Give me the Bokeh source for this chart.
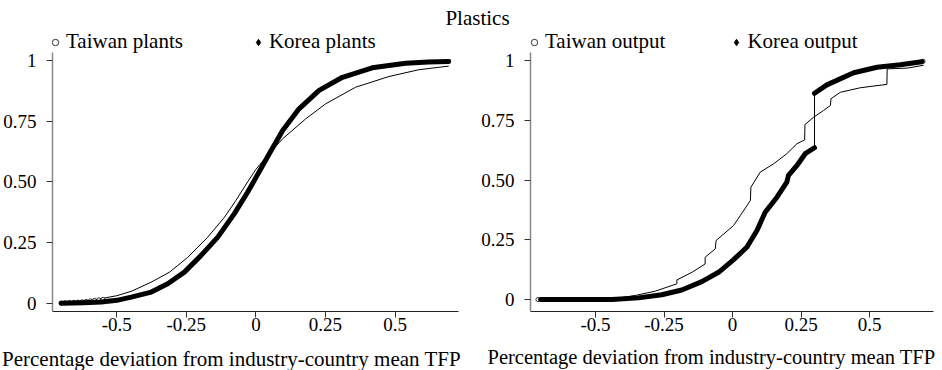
from bokeh.plotting import figure
from bokeh.layouts import column, row
from bokeh.models import Range1d, Legend, LegendItem, FixedTicker
from bokeh.embed import file_html
from bokeh.resources import INLINE
from bokeh.core.properties import value

FONT = "Liberation Serif"

title_text = "Plastics"
x_title = "Percentage deviation from industry-country mean TFP"
x_ticks = [-0.5, -0.25, 0, 0.25, 0.5]
x_tick_labels = ["-0.5", "-0.25", "0", "0.25", "0.5"]
y_ticks = [0, 0.25, 0.5, 0.75, 1]
y_tick_labels = ["0", "0.25", "0.50", "0.75", "1"]

# ---- left panel: plants ----
tw_plants_label = "Taiwan plants"
ko_plants_label = "Korea plants"
tw_plants_x = [-0.70, -0.65, -0.60, -0.556, -0.50, -0.448, -0.376, -0.31, -0.245, -0.173,
               -0.113, -0.072, -0.03, 0.0, 0.036, 0.096, 0.179, 0.251, 0.358, 0.478, 0.585, 0.693]
tw_plants_y = [0.002, 0.006, 0.011, 0.02, 0.032, 0.05, 0.088, 0.129, 0.19, 0.273,
               0.355, 0.424, 0.50, 0.552, 0.602, 0.678, 0.76, 0.822, 0.89, 0.934, 0.962, 0.977]
tw_plants_tail_x = [-0.70, -0.685, -0.67, -0.655, -0.64, -0.625, -0.61, -0.595, -0.58, -0.565, -0.55]
tw_plants_tail_y = [0.002, 0.003, 0.004, 0.005, 0.006, 0.007, 0.009, 0.011, 0.013, 0.015, 0.017]
ko_plants_x = [-0.70, -0.62, -0.556, -0.50, -0.448, -0.376, -0.317, -0.257, -0.197, -0.137,
               -0.078, -0.03, 0.0, 0.048, 0.096, 0.155, 0.227, 0.311, 0.418, 0.538, 0.62, 0.693]
ko_plants_y = [0.001, 0.003, 0.006, 0.013, 0.026, 0.047, 0.081, 0.129, 0.198, 0.273,
               0.369, 0.458, 0.518, 0.616, 0.712, 0.801, 0.877, 0.931, 0.97, 0.989, 0.994, 0.996]

# ---- right panel: output ----
tw_output_label = "Taiwan output"
ko_output_label = "Korea output"
tw_output_x = [-0.70, -0.55, -0.44, -0.355, -0.282, -0.203, -0.203, -0.148, -0.10, -0.10,
               -0.063, -0.060, 0.004, 0.028, 0.065, 0.067, 0.101, 0.15, 0.198, 0.235,
               0.263, 0.264, 0.296, 0.332, 0.357, 0.359, 0.393, 0.466, 0.563, 0.564, 0.636, 0.697]
tw_output_y = [0.0, 0.0, 0.002, 0.017, 0.035, 0.066, 0.082, 0.114, 0.149, 0.177,
               0.212, 0.247, 0.31, 0.351, 0.414, 0.47, 0.533, 0.568, 0.61, 0.652,
               0.668, 0.732, 0.763, 0.791, 0.812, 0.84, 0.867, 0.886, 0.90, 0.965, 0.968, 0.98]
tw_output_tail_x = [-0.71, -0.69, -0.675, -0.66, -0.645, -0.63, -0.615, -0.60, -0.585, -0.57, -0.555, 0.695]
tw_output_tail_y = [0.0, 0.0, 0.0, 0.0, 0.0, 0.0, 0.0, 0.0, 0.0, 0.0, 0.0, 0.997]
ko_output_low_x = [-0.70, -0.44, -0.343, -0.258, -0.185, -0.112, -0.051, 0.004, 0.052, 0.089,
                   0.119, 0.162, 0.198, 0.204, 0.235, 0.265, 0.299]
ko_output_low_y = [0.0, 0.0, 0.007, 0.02, 0.04, 0.075, 0.114, 0.167, 0.219, 0.289,
                   0.365, 0.428, 0.491, 0.519, 0.561, 0.61, 0.635]
ko_output_high_x = [0.299, 0.344, 0.442, 0.527, 0.612, 0.691]
ko_output_high_y = [0.863, 0.898, 0.949, 0.972, 0.982, 0.995]

W, H = 942, 370
TOP_H, BOT_H = 30, 24
PLOT_W, PLOT_H = 471, H - TOP_H - BOT_H
BORDER_B = 35
FRAME_H = PLOT_H - BORDER_B
LEGEND_H = 24


def style_axes(p, y_lo, y_hi):
    p.grid.visible = False
    p.outline_line_color = None
    for ax in (p.xaxis[0], p.yaxis[0]):
        ax.major_label_text_font = FONT
        ax.major_label_text_font_size = "19px"
        ax.major_label_text_color = "black"
        ax.minor_tick_line_color = None
        ax.major_tick_in = 0
        ax.major_tick_out = 6
        ax.major_tick_line_color = "#333333"
    p.xaxis.ticker = FixedTicker(ticks=x_ticks)
    p.xaxis.major_label_overrides = dict(zip(x_ticks, x_tick_labels))
    p.yaxis.ticker = FixedTicker(ticks=y_ticks)
    p.yaxis.major_label_overrides = dict(zip(y_ticks, y_tick_labels))
    p.yaxis.bounds = (y_lo, y_hi)
    p.xaxis.axis_line_color = "#222222"
    p.yaxis.axis_line_color = "#888888"
    p.yaxis.axis_line_width = 1.5
    p.xaxis.major_label_standoff = 0
    p.yaxis.major_label_standoff = 10


def add_legend(p, r1, l1, r2, l2, dx, spacing):
    leg = Legend(items=[LegendItem(label=l1, renderers=[r1]), LegendItem(label=l2, renderers=[r2])],
                 orientation="horizontal", location=(dx, FRAME_H - LEGEND_H), glyph_width=16, glyph_height=20,
                 label_height=20, label_standoff=3, spacing=spacing, padding=0, margin=0,
                 border_line_color=None, background_fill_alpha=0,
                 label_text_font=FONT, label_text_font_size="21px", label_text_color="black")
    p.add_layout(leg)


def strip(height):
    s = figure(width=W, height=height, x_range=Range1d(0, W), y_range=Range1d(0, height),
               x_axis_location=None, y_axis_location=None, min_border=0,
               toolbar_location=None, output_backend="svg", title=None)
    s.grid.visible = False
    s.outline_line_color = None
    return s


# top strip: title
p0 = strip(TOP_H)
p0.text(x=[477], y=[TOP_H - 17.5], text=[title_text], text_font=value(FONT), text_font_size="21px",
        text_align="center", text_baseline="middle", text_color="black")

# bottom strip: x-axis titles
p3 = strip(BOT_H)
p3.text(x=[231], y=[BOT_H / 2], text=[x_title], text_font=value(FONT),
        text_font_size="21px", text_align="center", text_baseline="middle", text_color="black")
p3.text(x=[711], y=[BOT_H / 2 + 2], text=[x_title], text_font=value(FONT),
        text_font_size="20.5px", text_align="center", text_baseline="middle", text_color="black")

# left panel (frame reaches up to hold the key; the y axis line stops at its bounds)
p1 = figure(width=PLOT_W, height=PLOT_H, x_range=Range1d(-0.731, 0.728), y_range=Range1d(-0.033, 1.1235),
            min_border_left=51, min_border_right=13, min_border_top=0, min_border_bottom=BORDER_B,
            toolbar_location=None, output_backend="svg", title=None)
style_axes(p1, -0.033, 1.033)
p1.line(tw_plants_x, tw_plants_y, line_color="black", line_width=1)
r_tw1 = p1.scatter(tw_plants_tail_x, tw_plants_tail_y, marker="circle", size=4,
                   fill_color="white", line_color="black", line_width=0.8)
p1.line(ko_plants_x, ko_plants_y, line_color="black", line_width=5, line_join="round", line_cap="round")
r_ko1 = p1.scatter(ko_plants_x, ko_plants_y, marker="diamond", size=4,
                   fill_color="black", line_color="black")
add_legend(p1, r_tw1, tw_plants_label, r_ko1, ko_plants_label, -5, 67)

# right panel
p2 = figure(width=PLOT_W, height=PLOT_H, x_range=Range1d(-0.737, 0.733), y_range=Range1d(-0.050, 1.1255),
            min_border_left=59, min_border_right=9, min_border_top=0, min_border_bottom=BORDER_B,
            toolbar_location=None, output_backend="svg", title=None)
style_axes(p2, -0.050, 1.0335)
p2.line(tw_output_x, tw_output_y, line_color="black", line_width=1)
r_tw2 = p2.scatter(tw_output_tail_x, tw_output_tail_y, marker="circle", size=4,
                   fill_color="white", line_color="black", line_width=0.8)
p2.line(ko_output_low_x + ko_output_high_x, ko_output_low_y + ko_output_high_y,
        line_color="black", line_width=1)
p2.line(ko_output_low_x, ko_output_low_y, line_color="black", line_width=5, line_join="round", line_cap="round")
p2.line(ko_output_high_x, ko_output_high_y, line_color="black", line_width=5, line_join="round", line_cap="round")
r_ko2 = p2.scatter(ko_output_low_x + ko_output_high_x, ko_output_low_y + ko_output_high_y,
                   marker="diamond", size=4, fill_color="black", line_color="black")
add_legend(p2, r_tw2, tw_output_label, r_ko2, ko_output_label, -4, 63)

layout = column(p0, row(p1, p2), p3)
open("out.html", "w").write(file_html(layout, INLINE))
